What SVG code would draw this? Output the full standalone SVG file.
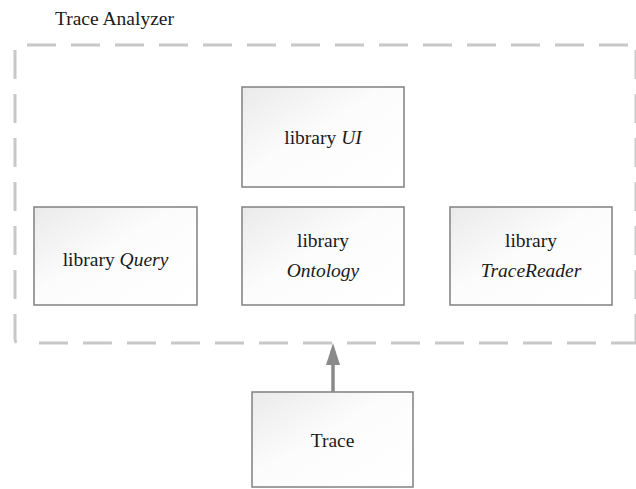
<svg xmlns="http://www.w3.org/2000/svg" width="636" height="489" viewBox="0 0 636 489">
  <style>
    .lbl { font-family: "Liberation Serif", "Times New Roman", serif; font-size: 19.5px; fill: #1a1a1a; }
    .it { font-style: italic; }
    .box { fill: url(#boxFill); stroke: #808080; stroke-width: 1.5; }
    .frame { fill: none; stroke: #c8c8c8; stroke-width: 3; stroke-dasharray: 29 15; }
    .conn { stroke: #8a8a8a; stroke-width: 3.5; fill: none; }
  </style>
  <defs>
    <linearGradient id="boxFill" x1="0" y1="0" x2="1" y2="1">
      <stop offset="0" stop-color="#eaeaea"/>
      <stop offset="0.45" stop-color="#fcfcfc"/>
      <stop offset="1" stop-color="#ffffff"/>
    </linearGradient>
  </defs>
  <rect width="636" height="489" fill="#ffffff"/>

  <!-- package frame -->
  <g id="trace-analyzer">
    <text class="lbl" x="55" y="25">Trace Analyzer</text>
    <path class="frame" d="M27,45 H628"/>
    <path class="frame" d="M15,50 V339 Q15,343 19,343"/>
    <path class="frame" d="M39,343 H636"/>
    <path class="frame" d="M636,50 V343"/>
  </g>

  <g id="lib-ui">
    <rect class="box" x="242" y="87" width="162" height="100"/>
    <text class="lbl" x="323" y="144" text-anchor="middle">library <tspan class="it">UI</tspan></text>
  </g>

  <g id="lib-query">
    <rect class="box" x="34" y="207" width="163" height="98"/>
    <text class="lbl" x="115.5" y="266" text-anchor="middle">library <tspan class="it">Query</tspan></text>
  </g>

  <g id="lib-ontology">
    <rect class="box" x="242" y="207" width="162" height="98"/>
    <text class="lbl" x="323" y="247" text-anchor="middle">library</text>
    <text class="lbl it" x="323" y="277" text-anchor="middle">Ontology</text>
  </g>

  <g id="lib-tracereader">
    <rect class="box" x="450" y="207" width="162" height="98"/>
    <text class="lbl" x="531" y="247" text-anchor="middle">library</text>
    <text class="lbl it" x="531" y="277" text-anchor="middle">TraceReader</text>
  </g>

  <g id="trace">
    <rect class="box" x="252" y="392" width="161" height="95"/>
    <text class="lbl" x="332.5" y="447" text-anchor="middle">Trace</text>
  </g>

  <!-- dependency: Trace -> Trace Analyzer -->
  <g id="connectors">
    <line class="conn" x1="333" y1="392" x2="333" y2="362"/>
    <polygon points="333,343 326,365 340,365" fill="#8a8a8a"/>
  </g>
</svg>
